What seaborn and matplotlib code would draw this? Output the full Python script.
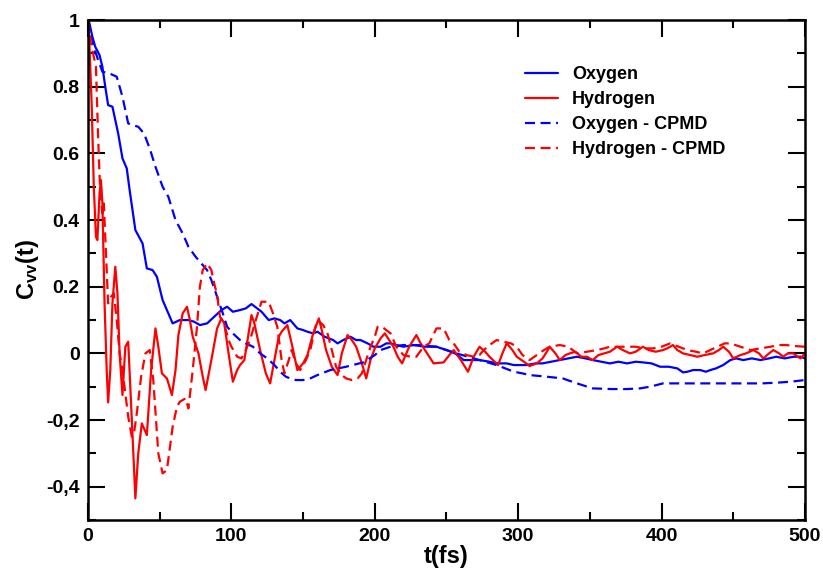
import numpy as np
import pandas as pd
import matplotlib
matplotlib.use("Agg")
import matplotlib.pyplot as plt
import seaborn as sns
from matplotlib.ticker import MultipleLocator, FixedLocator, FixedFormatter

# velocity autocorrelation values
t_oxygen = [0, 1, 3, 5, 8, 10, 12, 14, 17, 19, 21, 24, 27, 29, 33, 38, 41, 45, 48, 52,
            56, 59, 64, 70, 74, 78, 83, 88, 93, 97, 101, 106, 110, 114, 118, 121, 126, 130, 134, 137,
            141, 146, 150, 153, 157, 160, 165, 171, 174, 178, 183, 187, 190, 195, 199, 204, 208, 211, 215, 220,
            227, 235, 243, 250, 256, 262, 268, 273, 280, 285, 292, 297, 301, 306, 312, 317, 323, 329, 335, 341,
            347, 352, 358, 364, 370, 376, 382, 387, 393, 399, 405, 411, 415, 418, 422, 427, 431, 434, 438, 443,
            448, 452, 457, 463, 469, 475, 480, 486, 492, 497, 500]
c_oxygen = [1.0, 0.99, 0.95, 0.92, 0.895, 0.86, 0.80, 0.745, 0.74, 0.70, 0.66, 0.585, 0.555, 0.49, 0.37, 0.33, 0.255, 0.25, 0.23, 0.16,
            0.12, 0.09, 0.10, 0.10, 0.095, 0.085, 0.09, 0.11, 0.13, 0.14, 0.125, 0.13, 0.135, 0.148, 0.135, 0.125, 0.10, 0.105, 0.10, 0.09,
            0.10, 0.075, 0.07, 0.065, 0.06, 0.065, 0.05, 0.04, 0.03, 0.04, 0.05, 0.04, 0.04, 0.03, 0.02, 0.02, 0.03, 0.03, 0.025, 0.02,
            0.025, 0.02, 0.02, 0.01, 0.0, -0.02, -0.02, -0.02, -0.025, -0.03, -0.03, -0.035, -0.035, -0.035, -0.03, -0.03, -0.025, -0.02, -0.015, -0.01,
            -0.015, -0.02, -0.025, -0.03, -0.025, -0.03, -0.025, -0.027, -0.03, -0.04, -0.04, -0.045, -0.057, -0.055, -0.05, -0.05, -0.055, -0.05, -0.045, -0.035,
            -0.02, -0.015, -0.02, -0.015, -0.02, -0.015, -0.01, -0.015, -0.01, -0.01, -0.015]

t_hydrogen = [0, 1, 2.5, 4, 5.5, 6.5, 8, 9, 10, 11.5, 13, 14, 15.5, 17, 19, 20.5, 22, 24, 26, 28,
              30, 33, 35, 37.5, 41, 44, 47, 49, 51.5, 55, 58.5, 61, 63, 66, 69, 71, 73, 77, 80, 82,
              86, 90, 93, 95, 98, 101, 104, 106, 109, 112, 114, 116, 120, 124, 127, 130, 133, 135, 139, 142,
              146, 150, 153, 157, 161, 163, 166, 170, 174, 177, 181, 184, 187, 191, 194, 197, 200, 204, 207, 210,
              213, 216, 219, 224, 229, 232, 235, 241, 248, 252, 255, 260, 265, 269, 273, 277, 280, 286, 289, 292,
              296, 299, 304, 308, 313, 317, 320, 322, 326, 329, 333, 336, 340, 344, 348, 352, 356, 360, 364, 369,
              373, 378, 382, 387, 391, 396, 401, 404, 408, 411, 415, 420, 425, 430, 436, 440, 443, 447, 450, 455,
              459, 464, 468, 471, 475, 478, 482, 485, 488, 492, 495, 497, 500]
c_hydrogen = [1.0, 0.92, 0.75, 0.50, 0.35, 0.34, 0.48, 0.52, 0.45, 0.15, -0.05, -0.147, -0.05, 0.15, 0.26, 0.18, 0.0, -0.125, 0.02, 0.035,
              -0.15, -0.435, -0.30, -0.21, -0.245, -0.05, 0.075, 0.02, -0.06, -0.075, -0.125, -0.05, 0.055, 0.12, 0.14, 0.10, 0.05, 0.0, -0.07, -0.11,
              -0.02, 0.075, 0.105, 0.09, 0.0, -0.085, -0.05, -0.035, -0.02, 0.06, 0.115, 0.09, 0.01, -0.06, -0.09, -0.02, 0.05, 0.065, 0.085, 0.03,
              -0.05, -0.03, -0.005, 0.06, 0.105, 0.07, 0.01, -0.04, -0.065, 0.0, 0.055, 0.04, 0.02, -0.03, -0.075, -0.02, 0.015, 0.045, 0.06, 0.04,
              0.02, -0.01, -0.03, 0.02, 0.055, 0.03, 0.01, -0.03, -0.027, -0.005, 0.01, -0.02, -0.055, -0.01, 0.02, 0.005, -0.01, -0.035, 0.0, 0.03,
              0.01, -0.01, -0.025, -0.038, -0.03, -0.015, 0.005, 0.02, 0.0, -0.02, -0.005, 0.0, 0.005, -0.01, -0.01, -0.02, -0.005, 0.0, 0.005, 0.02,
              0.01, 0.0, 0.005, 0.02, 0.01, 0.005, 0.01, 0.015, 0.025, 0.01, 0.0, -0.005, -0.01, -0.005, 0.0, 0.01, 0.02, 0.005, -0.015, -0.005,
              0.0, 0.01, 0.0, -0.015, 0.0, 0.01, 0.0, -0.01, 0.0, 0.0, -0.01, -0.015, 0.0]

t_oxygen_cpmd = [0, 2, 4, 7, 10, 15, 20, 24, 28, 31, 35, 39, 43, 47, 52, 56, 61, 66, 70, 75,
                 79, 83, 86, 90, 94, 97, 101, 106, 110, 115, 120, 125, 130, 134, 138, 141, 145, 150, 155, 160,
                 169, 180, 192, 200, 204, 211, 220, 230, 243, 250, 257, 265, 273, 285, 297, 303, 308, 320, 331, 341,
                 352, 365, 376, 385, 392, 401, 410, 422, 440, 457, 470, 480, 490, 500]
c_oxygen_cpmd = [1.0, 0.96, 0.92, 0.88, 0.845, 0.84, 0.83, 0.77, 0.69, 0.685, 0.68, 0.66, 0.615, 0.56, 0.50, 0.47, 0.40, 0.36, 0.32, 0.29,
                 0.27, 0.25, 0.22, 0.17, 0.12, 0.08, 0.06, 0.04, 0.03, 0.02, 0.0, -0.015, -0.035, -0.055, -0.07, -0.075, -0.08, -0.08, -0.075, -0.065,
                 -0.05, -0.04, -0.027, -0.005, 0.01, 0.02, 0.025, 0.025, 0.02, 0.01, 0.0, -0.01, -0.02, -0.035, -0.055, -0.06, -0.065, -0.07, -0.075, -0.09,
                 -0.105, -0.107, -0.107, -0.105, -0.10, -0.09, -0.09, -0.09, -0.09, -0.09, -0.09, -0.088, -0.085, -0.08]

t_hydrogen_cpmd = [0, 2, 4, 5.5, 7, 8.5, 10, 11, 12.5, 14, 16, 18, 20, 22, 24, 26, 28, 30.5, 32, 34,
                   37, 40, 43, 45.5, 49, 52, 55, 59, 62, 64, 68, 70, 73, 76, 78, 80, 83, 86, 88, 90,
                   92, 95.5, 98, 100, 104, 107, 110, 113, 117, 121, 126, 129, 132, 135, 137, 140, 142, 145, 148, 152,
                   155, 158, 160, 164, 167, 170, 173, 177, 180, 184, 188, 191, 194, 197, 200, 202, 205, 208, 211, 215,
                   220, 225, 229, 234, 238, 243, 248, 252, 255, 259, 264, 269, 273, 276, 280, 285, 290, 295, 299, 303,
                   308, 313, 318, 322, 329, 335, 341, 348, 355, 360, 364, 370, 376, 382, 388, 394, 400, 406, 412, 418,
                   424, 429, 434, 439, 444, 448, 455, 462, 469, 476, 482, 487, 493, 500]
c_hydrogen_cpmd = [1.0, 0.93, 0.89, 0.86, 0.65, 0.48, 0.42, 0.45, 0.30, 0.15, 0.17, 0.18, 0.10, 0.0, -0.05, -0.12, -0.19, -0.25, -0.24, -0.18,
                   -0.07, 0.0, 0.01, -0.08, -0.30, -0.36, -0.35, -0.22, -0.16, -0.145, -0.135, -0.165, -0.05, 0.08, 0.20, 0.25, 0.27, 0.25, 0.21, 0.175,
                   0.11, 0.08, 0.04, 0.02, -0.01, -0.015, 0.01, 0.04, 0.10, 0.155, 0.155, 0.12, 0.08, -0.02, -0.06, -0.02, 0.01, -0.03, -0.05, -0.02,
                   0.01, 0.07, 0.10, 0.085, 0.06, 0.01, -0.04, -0.065, -0.075, -0.08, -0.075, -0.06, -0.02, 0.02, 0.05, 0.08, 0.08, 0.07, 0.06, 0.02,
                   -0.005, -0.01, -0.01, 0.02, 0.03, 0.075, 0.075, 0.04, 0.03, 0.005, -0.005, -0.01, -0.005, 0.01, 0.025, 0.04, 0.035, 0.03, 0.02, -0.005,
                   -0.02, -0.005, 0.01, 0.02, 0.025, 0.02, 0.0, 0.005, 0.01, 0.015, 0.02, 0.02, 0.02, 0.02, 0.015, 0.015, 0.02, 0.03, 0.02, 0.01,
                   0.005, 0.0, 0.01, 0.02, 0.03, 0.03, 0.02, 0.01, 0.015, 0.02, 0.025, 0.025, 0.022, 0.02]

series_names = ["Oxygen", "Hydrogen", "Oxygen - CPMD", "Hydrogen - CPMD"]
y_ticks = [-0.4, -0.2, 0, 0.2, 0.4, 0.6, 0.8, 1]
y_tick_labels = ["-0,4", "-0,2", "0", "0.2", "0.4", "0.6", "0.8", "1"]

sns.set_style("ticks")
plt.rcParams['font.family'] = ['Liberation Sans', 'DejaVu Sans']
plt.rcParams['font.weight'] = 'bold'
plt.rcParams['mathtext.fontset'] = 'custom'
plt.rcParams['mathtext.rm'] = 'Liberation Sans:bold'
plt.rcParams['mathtext.it'] = 'Liberation Sans:bold'
plt.rcParams['mathtext.bf'] = 'Liberation Sans:bold'
#plain black text and frame instead of seaborn's dark grey
for key in ['text.color', 'axes.labelcolor', 'xtick.color', 'ytick.color', 'axes.edgecolor']:
    plt.rcParams[key] = 'black'

#build long-form table
frames = []
for name, t, c in zip(series_names,
                      [t_oxygen, t_hydrogen, t_oxygen_cpmd, t_hydrogen_cpmd],
                      [c_oxygen, c_hydrogen, c_oxygen_cpmd, c_hydrogen_cpmd]):
    frames.append(pd.DataFrame({"t": t, "c": c, "series": name}))
df = pd.concat(frames, ignore_index=True)

palette = {"Oxygen": "#0000ff", "Hydrogen": "#ff0000",
           "Oxygen - CPMD": "#0000ff", "Hydrogen - CPMD": "#ff0000"}
dashes = {"Oxygen": "", "Hydrogen": "",
          "Oxygen - CPMD": (4.5, 2.5), "Hydrogen - CPMD": (4.5, 2.5)}

fig = plt.figure(figsize=(8.23, 5.74), dpi=100)
ax = fig.add_axes([0.107, 0.094, 0.871, 0.871])
sns.lineplot(data=df, x="t", y="c", hue="series", style="series",
             hue_order=series_names, style_order=series_names,
             palette=palette, dashes=dashes, estimator=None, sort=False,
             linewidth=1.6, ax=ax)

ax.set_xlim(0, 500)
ax.set_ylim(-0.5, 1)
ax.xaxis.set_major_locator(MultipleLocator(100))
ax.xaxis.set_minor_locator(MultipleLocator(50))
ax.yaxis.set_major_locator(FixedLocator(y_ticks))
ax.yaxis.set_major_formatter(FixedFormatter(y_tick_labels))
ax.yaxis.set_minor_locator(MultipleLocator(0.1))
ax.tick_params(which="both", direction="in", top=True, right=True, width=1.5, color="black")
ax.tick_params(which="major", length=12, labelsize=14, pad=6, labelcolor="black")
ax.tick_params(which="minor", length=6)
for s in ax.spines.values():
    s.set_linewidth(1.8)
    s.set_color("black")
for lab in ax.get_xticklabels() + ax.get_yticklabels():
    lab.set_fontweight("bold")

ax.set_xlabel("t(fs)", fontsize=17, fontweight="bold", labelpad=0, color="black")
ax.set_ylabel("C$_{vv}$(t)", fontsize=17, fontweight="bold", labelpad=4, color="black")

handles, labels = ax.get_legend_handles_labels()
pairs = [(h, l) for h, l in zip(handles, labels) if l in series_names]
leg = ax.legend([p[0] for p in pairs], [p[1] for p in pairs],
                loc="upper left", bbox_to_anchor=(525 / 823, 1 - 66 / 574),
                bbox_transform=fig.transFigure, frameon=False,
                prop={"size": 13, "weight": "bold"}, handlelength=1.8,
                handletextpad=0.8, labelspacing=0.45, borderpad=0, borderaxespad=0)
for h in leg.get_lines():
    h.set_linewidth(1.6)
for txt in leg.get_texts():
    txt.set_color("black")

fig.savefig("out.png", dpi=100)
